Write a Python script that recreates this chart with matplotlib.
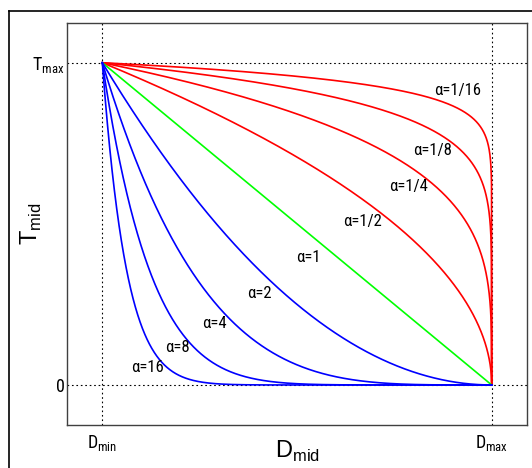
import numpy as np
import matplotlib
matplotlib.use("Agg")
import matplotlib.pyplot as plt
from matplotlib import font_manager as fm
from matplotlib.lines import Line2D

# curve parameters (alpha) and their labels
alphas = [1/16, 1/8, 1/4, 1/2, 1, 2, 4, 8, 16]
alpha_labels = ["α=1/16", "α=1/8", "α=1/4", "α=1/2", "α=1",
                "α=2", "α=4", "α=8", "α=16"]
x_ticks = [0, 1]
x_ticklabels = [r"D$_\mathrm{min}$", r"D$_\mathrm{max}$"]
y_ticks = [0, 1]
y_ticklabels = ["0", r"T$_\mathrm{max}$"]

# where the labels sit (data coords)
label_pos = [(0.913, 0.915), (0.847, 0.729), (0.786, 0.617), (0.669, 0.506),
             (0.528, 0.397), (0.404, 0.285), (0.287, 0.192), (0.192, 0.115),
             (0.115, 0.053)]


def pick_font(names):
    for n in names:
        try:
            fm.findfont(fm.FontProperties(family=n), fallback_to_default=False)
            return n
        except Exception:
            pass
    return "DejaVu Sans"


narrow = pick_font(["Liberation Sans Narrow", "DejaVu Sans Condensed", "Roboto Condensed"])
sans = pick_font(["Liberation Sans", "DejaVu Sans"])

plt.rcParams["mathtext.fontset"] = "custom"
plt.rcParams["mathtext.rm"] = narrow
plt.rcParams["mathtext.sf"] = sans

fig = plt.figure(figsize=(5.32, 4.68), dpi=100)
ax = fig.add_axes([67.3 / 532, 1 - 424.7 / 468, 460 / 532, 401.7 / 468])

x = np.linspace(0, 1, 2000)
for a in alphas:
    if a < 1:
        c = "#ff0000"
    elif a == 1:
        c = "#00ff00"
    else:
        c = "#0000ff"
    ax.plot(x, (1 - x) ** a, color=c, lw=1.2)

for (lx, ly), txt in zip(label_pos, alpha_labels):
    ax.text(lx, ly, txt, ha="center", va="center", fontsize=12,
            family=narrow, color="k")

ax.set_xlim(-0.0899, 1.0914)
ax.set_ylim(-0.1232, 1.1232)
ax.set_xticks(x_ticks, labels=x_ticklabels)
ax.set_yticks(y_ticks, labels=y_ticklabels)
ax.tick_params(length=0, labelsize=13)
ax.tick_params(axis="x", pad=6)
ax.tick_params(axis="y", pad=2)
for lab in ax.get_xticklabels() + ax.get_yticklabels():
    lab.set_family(narrow)
ax.grid(True, linestyle=(0, (1.5, 2.5)), color="k", lw=0.8)
for s in ax.spines.values():
    s.set_color("#404040")
    s.set_linewidth(1.0)

ax.set_xlabel(r"$\mathsf{D}_\mathsf{mid}$", fontsize=17)
ax.set_ylabel(r"$\mathsf{T}_\mathsf{mid}$", fontsize=17)
ax.xaxis.set_label_coords(0.5, -0.035)
ax.yaxis.set_label_coords(-0.05, 0.5)

# outer frame (left and top edges visible)
fx = 9 / 532
fy = 1 - 11 / 468
fig.add_artist(Line2D([fx, fx], [0, fy], color="k", lw=1.2, transform=fig.transFigure))
fig.add_artist(Line2D([fx, 1], [fy, fy], color="k", lw=1.2, transform=fig.transFigure))

fig.savefig("out.png", dpi=100)
